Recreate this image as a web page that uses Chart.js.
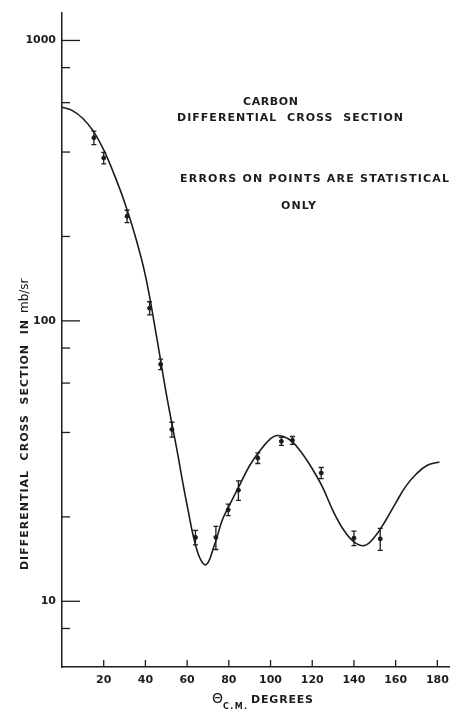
<!DOCTYPE html>
<html>
<head>
<meta charset="utf-8">
<script src="https://cdn.jsdelivr.net/npm/chart.js@4"></script>
<style>
  body { margin: 0; background: #fff; }
  canvas { display: block; }
</style>
</head>
<body>
<canvas id="chart" width="456" height="711"></canvas>
<script>
// smooth curve (theta cm in degrees, mb/sr)
const curveDeg = [0, 5, 10, 15, 20, 25, 30, 35, 40, 45, 50, 55, 60, 65, 69, 73, 77, 80, 85, 90, 95, 100, 103, 106, 110, 115, 120, 125, 130, 135, 140, 145, 150, 155, 160, 165, 170, 175, 181];
const curveVal = [578, 562, 527, 475, 407, 333, 265, 202, 145, 91, 55, 35, 22, 15, 13.5, 15.8, 19.6, 21.8, 25.8, 30.5, 34.5, 38, 39, 38.7, 37.3, 33.8, 29.7, 25.5, 21, 18, 16.3, 15.8, 17, 19.3, 22.4, 25.8, 28.5, 30.5, 31.4];

// measured points and their statistical errors
const ptDeg = [15.3, 20, 31.2, 42, 47.3, 52.7, 64, 73.8, 79.7, 84.6, 93.9, 105.2, 110.5, 124.3, 140, 152.6];
const ptVal = [450, 381, 236, 111, 70, 41, 16.9, 16.9, 21.2, 24.9, 32.4, 37.2, 37.5, 28.7, 16.8, 16.7];
const ptErr = [25, 18, 12, 6, 3, 2.5, 1, 1.6, 1, 2, 1.4, 1.2, 1.2, 1.3, 1, 1.5];

// axis ticks
const xTickVals = [20, 40, 60, 80, 100, 120, 140, 160, 180];
const yTickVals = [8, 10, 20, 40, 60, 80, 100, 200, 400, 600, 800, 1000];
const yLabelVals = [10, 100, 1000];

const ink = '#1c1c1c';

// write text stretched to a given width with letter spacing
function drawFit(ctx, text, x, y, width) {
    ctx.letterSpacing = '0px';
    const w = ctx.measureText(text).width;
    const sp = (width - w) / Math.max(1, text.length - 1);
    ctx.letterSpacing = sp + 'px';
    ctx.fillText(text, x, y);
    ctx.letterSpacing = '0px';
}

const decor = {
    id: 'decor',
    afterDatasetsDraw(chart) {
        const ctx = chart.ctx;
        const xs = chart.scales.x, ys = chart.scales.y;
        ctx.save();
        ctx.strokeStyle = ink;
        ctx.lineWidth = 1.3;

        // error bars
        ptDeg.forEach(function(d, i) {
            const px = xs.getPixelForValue(d);
            const top = ys.getPixelForValue(ptVal[i] + ptErr[i]);
            const bot = ys.getPixelForValue(ptVal[i] - ptErr[i]);
            ctx.beginPath();
            ctx.moveTo(px, top); ctx.lineTo(px, bot);
            ctx.moveTo(px - 2.5, top); ctx.lineTo(px + 2.5, top);
            ctx.moveTo(px - 2.5, bot); ctx.lineTo(px + 2.5, bot);
            ctx.stroke();
        });

        // inside tick marks on y axis
        const left = chart.chartArea.left;
        yTickVals.forEach(function(v) {
            const py = ys.getPixelForValue(v);
            const len = yLabelVals.includes(v) ? 18 : 8;
            ctx.beginPath();
            ctx.moveTo(left, py); ctx.lineTo(left + len, py);
            ctx.stroke();
        });
        // upward tick marks on x axis
        const bottom = chart.chartArea.bottom;
        xTickVals.forEach(function(v) {
            const px = xs.getPixelForValue(v);
            ctx.beginPath();
            ctx.moveTo(px, bottom); ctx.lineTo(px, bottom - 7);
            ctx.stroke();
        });

        // lettering
        ctx.fillStyle = ink;
        ctx.textBaseline = 'middle';
        ctx.textAlign = 'left';
        ctx.font = 'bold 11px "DejaVu Sans"';
        drawFit(ctx, 'CARBON', 243, 102, 55);
        drawFit(ctx, 'DIFFERENTIAL  CROSS  SECTION', 177, 118, 226);
        drawFit(ctx, 'ERRORS ON POINTS ARE STATISTICAL', 180, 179, 269);
        drawFit(ctx, 'ONLY', 281, 206, 35);

        // x title
        ctx.textBaseline = 'alphabetic';
        ctx.font = '14px "DejaVu Sans"';
        ctx.fillText('\u0398', 212, 703);
        ctx.font = 'bold 8px "DejaVu Sans"';
        drawFit(ctx, 'C.M.', 223, 709, 24);
        ctx.font = 'bold 11px "DejaVu Sans"';
        drawFit(ctx, 'DEGREES', 251, 703, 62);

        // y title, rotated
        ctx.translate(28, 570);
        ctx.rotate(-Math.PI / 2);
        ctx.font = 'bold 11px "DejaVu Sans"';
        const main = 'DIFFERENTIAL  CROSS  SECTION  IN';
        drawFit(ctx, main, 0, 0, 250);
        ctx.font = '12px "DejaVu Sans"';
        ctx.fillText('mb/sr', 257, 0);
        ctx.restore();
    }
};

new Chart(document.getElementById('chart'), {
    data: {
        datasets: [{
            type: 'line',
            data: curveDeg.map((d, i) => ({x: d, y: curveVal[i]})),
            borderColor: ink,
            borderWidth: 1.6,
            pointRadius: 0,
            tension: 0.4,
            fill: false
        }, {
            type: 'scatter',
            data: ptDeg.map((d, i) => ({x: d, y: ptVal[i]})),
            backgroundColor: ink,
            borderColor: ink,
            pointRadius: 2
        }]
    },
    options: {
        responsive: false,
        animation: false,
        layout: { padding: { left: 0, right: 2, top: 10, bottom: 0 } },
        plugins: { legend: { display: false }, tooltip: { enabled: false } },
        scales: {
            x: {
                type: 'linear',
                min: 0,
                max: 186,
                afterBuildTicks: s => { s.ticks = xTickVals.map(v => ({value: v})); },
                afterFit: s => { s.height = 44; },
                grid: { display: true, drawOnChartArea: false, drawTicks: false },
                border: { display: true, color: ink, width: 1.5 },
                ticks: {
                    padding: 7,
                    color: ink,
                    font: { family: 'DejaVu Sans', weight: 'bold', size: 11 },
                    maxRotation: 0
                }
            },
            y: {
                type: 'logarithmic',
                min: 5.83,
                max: 1257,
                afterBuildTicks: s => { s.ticks = yTickVals.map(v => ({value: v})); },
                afterFit: s => { s.width = 62; },
                grid: { display: true, drawOnChartArea: false, drawTicks: false },
                border: { display: true, color: ink, width: 1.5 },
                ticks: {
                    padding: 6,
                    color: ink,
                    font: { family: 'DejaVu Sans', weight: 'bold', size: 11 },
                    callback: v => yLabelVals.includes(v) ? String(v) : ''
                }
            }
        }
    },
    plugins: [decor]
});
</script>
</body>
</html>
